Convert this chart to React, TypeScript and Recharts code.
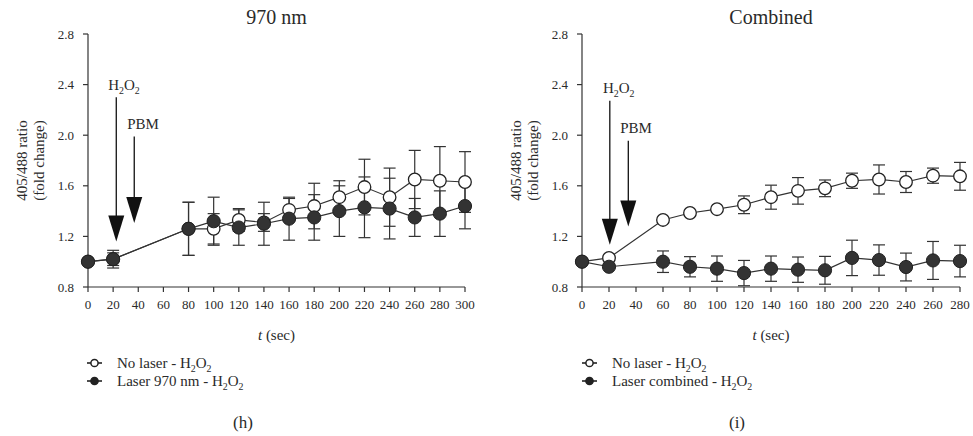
import React from "react";
import {
  LineChart,
  Line,
  XAxis,
  YAxis,
  ErrorBar,
  ReferenceLine,
  ReferenceDot,
} from "recharts";

// panel (h): 970 nm
const timesH = [0, 20, 80, 100, 120, 140, 160, 180, 200, 220, 240, 260, 280, 300];
const noLaserH = [1.0, 1.02, 1.26, 1.26, 1.33, 1.31, 1.41, 1.44, 1.51, 1.59, 1.51, 1.65, 1.64, 1.63];
const noLaserHErr = [0, 0.05, 0.21, 0.12, 0.09, 0.07, 0.09, 0.18, 0.13, 0.22, 0.23, 0.23, 0.27, 0.24];
const laser970 = [1.0, 1.02, 1.26, 1.32, 1.27, 1.3, 1.34, 1.35, 1.4, 1.43, 1.42, 1.35, 1.38, 1.44];
const laser970Err = [0, 0.07, 0.21, 0.19, 0.14, 0.17, 0.17, 0.18, 0.2, 0.24, 0.24, 0.15, 0.18, 0.18];
const ticksH = [0, 20, 40, 60, 80, 100, 120, 140, 160, 180, 200, 220, 240, 260, 280, 300];

// panel (i): combined
const timesI = [0, 20, 60, 80, 100, 120, 140, 160, 180, 200, 220, 240, 260, 280];
const noLaserI = [1.0, 1.03, 1.33, 1.385, 1.415, 1.45, 1.51, 1.56, 1.58, 1.64, 1.65, 1.63, 1.68, 1.675];
const noLaserIErr = [0, 0, 0.02, 0.02, 0.02, 0.07, 0.095, 0.105, 0.066, 0.06, 0.115, 0.083, 0.06, 0.11];
const laserComb = [1.0, 0.96, 1.0, 0.96, 0.945, 0.91, 0.945, 0.937, 0.932, 1.03, 1.013, 0.958, 1.01, 1.005];
const laserCombErr = [0, 0, 0.085, 0.08, 0.1, 0.1, 0.1, 0.1, 0.11, 0.14, 0.12, 0.11, 0.15, 0.125];
const ticksI = [0, 20, 40, 60, 80, 100, 120, 140, 160, 180, 200, 220, 240, 260, 280];

const yTicks = [0.8, 1.2, 1.6, 2.0, 2.4, 2.8];

// arrows: [x, top of shaft, tip]; labels: [x, baseline]
const arrowsH = { h2o2: [22.5, 2.3, 1.16], pbm: [36.8, 1.99, 1.306] };
const labelsH = { h2o2: [16.1, 2.354], pbm: [31.2, 2.051] };
const arrowsI = { h2o2: [20.6, 2.273, 1.134], pbm: [34.3, 1.957, 1.279] };
const labelsI = { h2o2: [15.5, 2.336], pbm: [28.3, 2.02] };

const SERIF = "Times New Roman, Liberation Serif, DejaVu Serif, serif";
const INK = "#2a2a2a";

const H2O2 = ({ size = 15 }: { size?: number }) => (
  <>
    <tspan>H</tspan>
    <tspan dy={4} fontSize={size * 0.66}>2</tspan>
    <tspan dy={-4}>O</tspan>
    <tspan dy={4} fontSize={size * 0.66}>2</tspan>
  </>
);

const arrowHead = (p: any) => (
  <polygon
    points={`${p.cx - 8},${p.cy - 26} ${p.cx + 8},${p.cy - 26} ${p.cx},${p.cy}`}
    fill="#111"
  />
);

const YLabel = (props: any) => {
  const vb = props.viewBox || {};
  const right = vb.x + vb.width;
  const cy = vb.y + vb.height / 2;
  const x1 = right - 66;
  const x2 = right - 49;
  return (
    <g style={{ fontFamily: SERIF }} fontSize={15} fill={INK}>
      <text x={x1} y={cy} textAnchor="middle" dominantBaseline="central" transform={`rotate(-90, ${x1}, ${cy})`}>
        405/488 ratio
      </text>
      <text x={x2} y={cy} textAnchor="middle" dominantBaseline="central" transform={`rotate(-90, ${x2}, ${cy})`}>
        (fold change)
      </text>
    </g>
  );
};

const XLabel = (props: any) => {
  const vb = props.viewBox || {};
  return (
    <text x={vb.x + vb.width / 2} y={vb.y + 53} textAnchor="middle" style={{ fontFamily: SERIF }} fontSize={15} fill={INK}>
      <tspan fontStyle="italic">t</tspan> (sec)
    </text>
  );
};

function Panel({ rows, ticks, xMax, width, yAxisWidth, right, arrows, labels }: any) {
  return (
    <LineChart
      width={width}
      height={345}
      data={rows}
      margin={{ top: 34, right, bottom: 0, left: 0 }}
      style={{ fontFamily: SERIF }}
    >
      <XAxis
        dataKey="t"
        type="number"
        domain={[0, xMax]}
        ticks={ticks}
        height={58}
        tickSize={5}
        tickMargin={8}
        interval={0}
        tick={{ fontFamily: SERIF, fontSize: 13, fill: INK }}
        axisLine={{ stroke: "#333", strokeWidth: 1.2 }}
        tickLine={{ stroke: "#333", strokeWidth: 1.2 }}
        label={(p: any) => <XLabel {...p} />}
      />
      <YAxis
        type="number"
        domain={[0.8, 2.8]}
        ticks={yTicks}
        width={yAxisWidth}
        tickSize={5}
        tickMargin={9}
        interval={0}
        tickFormatter={(v: number) => v.toFixed(1)}
        tick={{ fontFamily: SERIF, fontSize: 13, fill: INK }}
        axisLine={{ stroke: "#333", strokeWidth: 1.2 }}
        tickLine={{ stroke: "#333", strokeWidth: 1.2 }}
        label={(p: any) => <YLabel {...p} />}
      />
      <ReferenceLine
        segment={[{ x: arrows.h2o2[0], y: arrows.h2o2[1] }, { x: arrows.h2o2[0], y: arrows.h2o2[2] + 0.15 }]}
        stroke="#111"
        strokeWidth={1.3}
      />
      <ReferenceLine
        segment={[{ x: arrows.pbm[0], y: arrows.pbm[1] }, { x: arrows.pbm[0], y: arrows.pbm[2] + 0.15 }]}
        stroke="#111"
        strokeWidth={1.3}
      />
      <ReferenceDot x={arrows.h2o2[0]} y={arrows.h2o2[2]} shape={arrowHead} />
      <ReferenceDot x={arrows.pbm[0]} y={arrows.pbm[2]} shape={arrowHead} />
      <ReferenceDot
        x={labels.h2o2[0]}
        y={labels.h2o2[1]}
        shape={(p: any) => (
          <text x={p.cx} y={p.cy} style={{ fontFamily: SERIF }} fontSize={15} fill={INK}>
            <H2O2 />
          </text>
        )}
      />
      <ReferenceDot
        x={labels.pbm[0]}
        y={labels.pbm[1]}
        shape={(p: any) => (
          <text x={p.cx} y={p.cy} style={{ fontFamily: SERIF }} fontSize={15} fill={INK}>
            PBM
          </text>
        )}
      />
      <Line
        dataKey="noLaser"
        type="linear"
        stroke="#333"
        strokeWidth={1.2}
        dot={{ r: 6.3, fill: "#fff", stroke: "#222", strokeWidth: 1.3 }}
        isAnimationActive={false}
      >
        <ErrorBar dataKey="noLaserErr" direction="y" width={6} stroke="#333" strokeWidth={1.2} />
      </Line>
      <Line
        dataKey="laser"
        type="linear"
        stroke="#333"
        strokeWidth={1.2}
        dot={{ r: 6.6, fill: "#333", stroke: "#222", strokeWidth: 1 }}
        isAnimationActive={false}
      >
        <ErrorBar dataKey="laserErr" direction="y" width={6} stroke="#333" strokeWidth={1.2} />
      </Line>
    </LineChart>
  );
}

const LegendRow = ({ x, y, filled, children }: any) => (
  <g>
    <line x1={x} x2={x + 15} y1={y} y2={y} stroke="#222" strokeWidth={1.6} />
    <circle cx={x + 7.5} cy={y} r={3.6} fill={filled ? "#222" : "#fff"} stroke="#222" strokeWidth={1.5} />
    <text x={x + 30} y={y + 5} style={{ fontFamily: SERIF }} fontSize={15} fill={INK}>
      {children}
    </text>
  </g>
);

export default function App() {
  const rowsH = timesH.map((t, i) => ({
    t,
    noLaser: noLaserH[i],
    noLaserErr: noLaserHErr[i],
    laser: laser970[i],
    laserErr: laser970Err[i],
  }));
  const rowsI = timesI.map((t, i) => ({
    t,
    noLaser: noLaserI[i],
    noLaserErr: noLaserIErr[i],
    laser: laserComb[i],
    laserErr: laserCombErr[i],
  }));

  return (
    <div style={{ position: "absolute", left: 0, top: 0, width: 973, height: 436, background: "#fff", fontFamily: SERIF }}>
      <div style={{ position: "absolute", left: 0, top: 0 }}>
        <Panel rows={rowsH} ticks={ticksH} xMax={300} width={490} yAxisWidth={88} right={25} arrows={arrowsH} labels={labelsH} />
      </div>
      <div style={{ position: "absolute", left: 490, top: 0 }}>
        <Panel rows={rowsI} ticks={ticksI} xMax={280} width={483} yAxisWidth={92} right={13} arrows={arrowsI} labels={labelsI} />
      </div>
      <svg width={973} height={436} style={{ position: "absolute", left: 0, top: 0, pointerEvents: "none", fontFamily: SERIF }}>
        <g fill={INK}>
          <text x={276.5} y={24} fontSize={20} textAnchor="middle">970 nm</text>
          <text x={771} y={24} fontSize={20} textAnchor="middle">Combined</text>
          <text x={243} y={428} fontSize={17} textAnchor="middle">(h)</text>
          <text x={737} y={428} fontSize={17} textAnchor="middle">(i)</text>
        </g>
        <LegendRow x={87} y={363} filled={false}>
          No laser - <H2O2 />
        </LegendRow>
        <LegendRow x={87} y={381} filled>
          Laser 970 nm - <H2O2 />
        </LegendRow>
        <LegendRow x={582} y={363} filled={false}>
          No laser - <H2O2 />
        </LegendRow>
        <LegendRow x={582} y={381} filled>
          Laser combined - <H2O2 />
        </LegendRow>
      </svg>
    </div>
  );
}
